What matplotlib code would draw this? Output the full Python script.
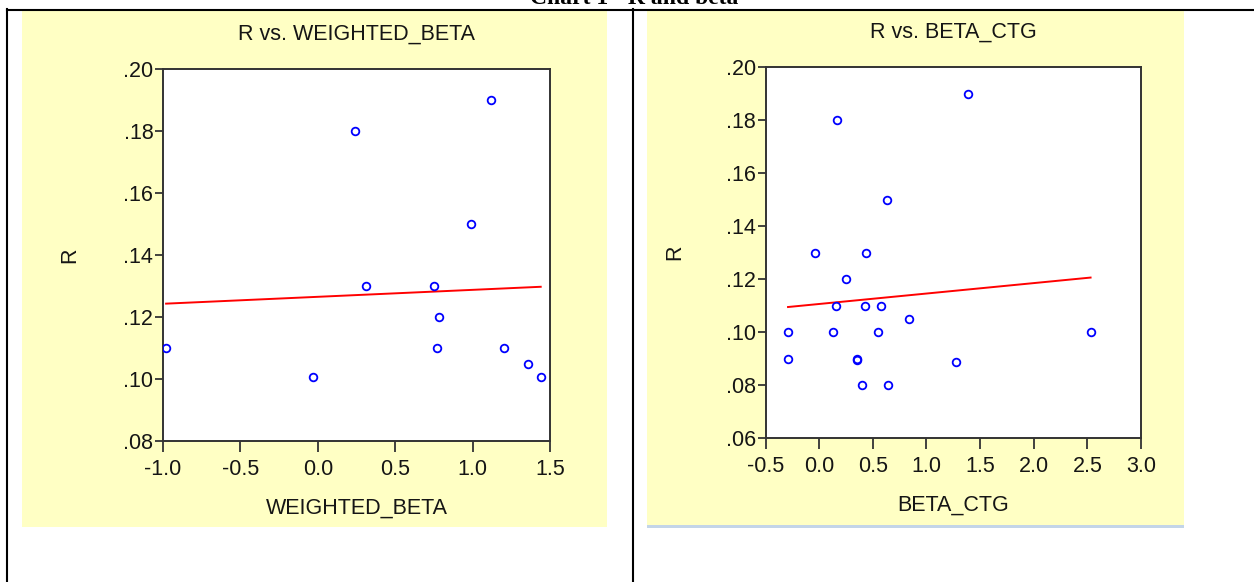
import numpy as np
import matplotlib
matplotlib.use("Agg")
import matplotlib.pyplot as plt
from matplotlib.patches import Rectangle
from matplotlib.lines import Line2D
from matplotlib.ticker import FuncFormatter

plt.rcParams['font.family'] = ['Liberation Sans', 'DejaVu Sans']

# data
wb_x = [-0.98, -0.03, 0.24, 0.31, 0.75, 0.77, 0.78, 0.99, 1.12, 1.20, 1.36, 1.44]
wb_r = [0.110, 0.1005, 0.180, 0.130, 0.130, 0.110, 0.120, 0.150, 0.190, 0.110, 0.105, 0.1005]

ctg_x = [1.39, 0.17, 0.63, -0.04, 0.44, 0.25, 0.155, 0.43, 0.58, 0.84,
         -0.29, 0.125, 0.55, 2.53, -0.29, 0.353, 0.353, 1.28, 0.40, 0.643]
ctg_r = [0.190, 0.180, 0.150, 0.130, 0.130, 0.120, 0.110, 0.110, 0.110, 0.105,
         0.100, 0.100, 0.100, 0.100, 0.090, 0.090, 0.0893, 0.0885, 0.080, 0.080]

doc_title = "Chart 1 - R and beta"
W, H = 1254, 582
txt = '#151515'

fig = plt.figure(figsize=(W / 100, H / 100), dpi=100)
fig.patch.set_facecolor('white')


def px_rect(x0, y0, x1, y1, color):
    # rectangle given in pixels from the top-left corner
    fig.add_artist(Rectangle((x0 / W, 1 - y1 / H), (x1 - x0) / W, (y1 - y0) / H,
                             transform=fig.transFigure, facecolor=color,
                             edgecolor='none', zorder=-2))


def px_line(xs, ys, color='black', lw=1.5):
    fig.add_artist(Line2D([x / W for x in xs], [1 - y / H for y in ys],
                          transform=fig.transFigure, color=color, lw=lw, zorder=-1))


# yellow chart panels
px_rect(22, 11, 607, 527, '#FFFFC4')
px_rect(647, 11, 1184, 525, '#FFFFC4')
px_rect(647, 525, 1184, 528, '#C3D5E8')

# table borders
px_line([7, 1254], [9.5, 9.5])
px_line([7, 7], [9, 582])
px_line([632.5, 632.5], [9, 582])

fig.text(634 / W, 1 - 4 / H, doc_title, ha='center', va='baseline',
         family='Liberation Serif', fontweight='bold', fontsize=17, color='black')


def scatter_panel(rect, x, r, title, xlabel, xlim, xticks, ylim, yticks):
    ax = fig.add_axes(rect)
    ax.set_facecolor('white')
    ax.plot(x, r, 'o', mfc='none', mec='#0000FF', mew=1.3, ms=5.5, zorder=3)
    k, b = np.polyfit(x, r, 1)
    xs = np.array([min(x), max(x)])
    ax.plot(xs, k * xs + b, color='#FF0000', lw=1.4, zorder=2)
    ax.set_xlim(*xlim)
    ax.set_ylim(*ylim)
    ax.set_xticks(xticks)
    ax.set_yticks(yticks)
    ax.xaxis.set_major_formatter(FuncFormatter(lambda v, p: f"{v:.1f}"))
    ax.yaxis.set_major_formatter(FuncFormatter(lambda v, p: f"{v:.2f}".replace("0.", ".", 1)))
    ax.tick_params(axis='x', direction='out', length=8, width=1.3, pad=5,
                   labelsize=15.5, colors='#333333', labelcolor=txt)
    ax.tick_params(axis='y', direction='out', length=6, width=1.3, pad=1,
                   labelsize=15.5, colors='#333333', labelcolor=txt)
    for s in ax.spines.values():
        s.set_color('#333333')
        s.set_linewidth(1.4)
    ax.set_title(title, fontsize=15.5, color=txt, pad=21)
    ax.set_xlabel(xlabel, fontsize=15.5, color=txt, labelpad=13)
    ax.set_ylabel('R', fontsize=15.5, color=txt)
    ax.yaxis.set_label_coords(-0.215, 0.5)
    return ax


scatter_panel([163 / W, 1 - 441 / H, 387 / W, 372 / H], wb_x, wb_r,
              "R vs. WEIGHTED_BETA", "WEIGHTED_BETA",
              (-1.0, 1.5), np.arange(-1.0, 1.51, 0.5),
              (0.08, 0.20), np.arange(0.08, 0.201, 0.02))

scatter_panel([765.5 / W, 1 - 438 / H, 375.5 / W, 371 / H], ctg_x, ctg_r,
              "R vs. BETA_CTG", "BETA_CTG",
              (-0.5, 3.0), np.arange(-0.5, 3.01, 0.5),
              (0.06, 0.20), np.arange(0.06, 0.201, 0.02))

fig.savefig("out.png", dpi=100)
